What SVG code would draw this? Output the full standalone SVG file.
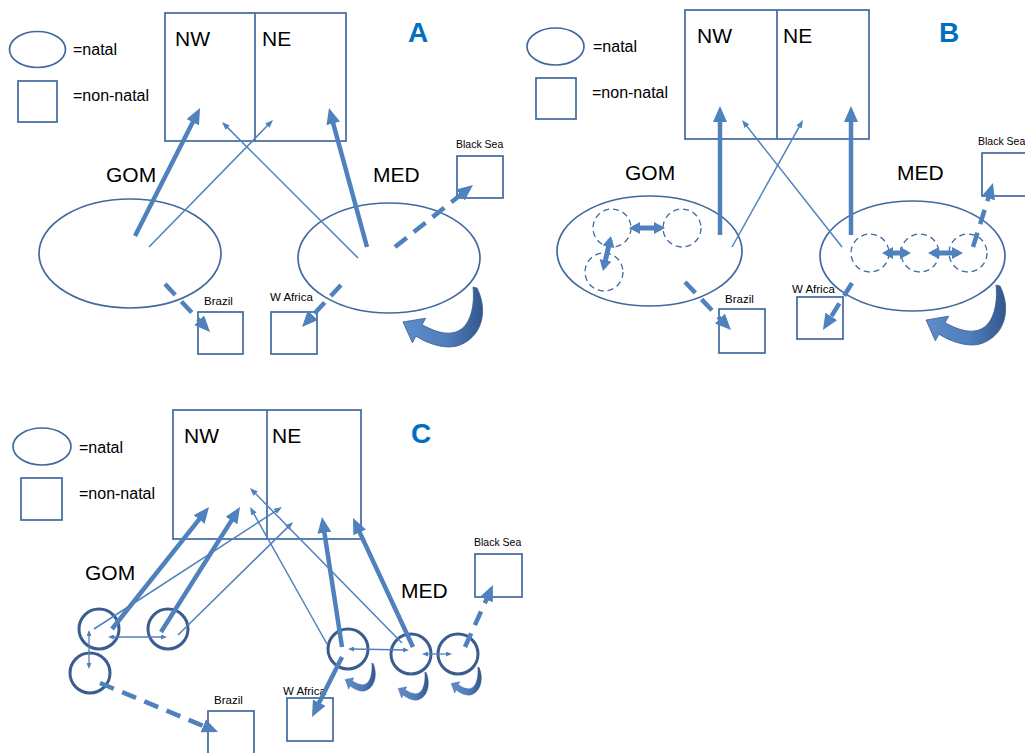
<svg xmlns="http://www.w3.org/2000/svg" width="1025" height="753" viewBox="0 0 1025 753">
<style>
.shape{fill:none;stroke:#41699F;stroke-width:1.7}
.dcirc{fill:none;stroke:#41699F;stroke-width:1.3;stroke-dasharray:6 4}
.scirc{fill:none;stroke:#3A5D8F;stroke-width:3}
.thick{fill:none;stroke:#4F81BD;stroke-width:4.5;marker-end:url(#hT)}
.thin{fill:none;stroke:#4F81BD;stroke-width:1.5;marker-end:url(#hS)}
.dash{fill:none;stroke:#4F81BD;stroke-width:4.5;stroke-dasharray:15 9;marker-end:url(#hT)}
.dbl{fill:none;stroke:#4F81BD;stroke-width:5;marker-start:url(#hM);marker-end:url(#hM)}
.sdbl{fill:none;stroke:#4F81BD;stroke-width:1.3;marker-start:url(#hX);marker-end:url(#hX)}
.big{font-family:"Liberation Sans",Arial,sans-serif;font-size:21px;fill:#000}
.leg{font-family:"Liberation Sans",Arial,sans-serif;font-size:16px;fill:#000}
.sm{font-family:"Liberation Sans",Arial,sans-serif;font-size:11.5px;fill:#000}
.bs{font-family:"Liberation Sans",Arial,sans-serif;font-size:10.5px;fill:#000}
.pl{font-family:"Liberation Sans",Arial,sans-serif;font-size:28px;font-weight:bold;fill:#0070C0}
.curve{fill:url(#cg);stroke:#385D8A;stroke-width:0.8}
</style>
<defs>
<marker id="hT" markerUnits="userSpaceOnUse" viewBox="0 0 16 14" markerWidth="16" markerHeight="14" refX="10" refY="7" orient="auto-start-reverse"><path d="M0,0 L16,7 L0,14 Z" fill="#4F81BD"/></marker>
<marker id="hM" markerUnits="userSpaceOnUse" viewBox="0 0 11 12" markerWidth="11" markerHeight="12" refX="7" refY="6" orient="auto-start-reverse"><path d="M0,0 L11,6 L0,12 Z" fill="#4F81BD"/></marker>
<marker id="hS" markerUnits="userSpaceOnUse" viewBox="0 0 8 6" markerWidth="8" markerHeight="6" refX="5" refY="3" orient="auto-start-reverse"><path d="M0,0 L8,3 L0,6 Z" fill="#4F81BD"/></marker>
<marker id="hX" markerUnits="userSpaceOnUse" viewBox="0 0 6 5" markerWidth="6" markerHeight="5" refX="4" refY="2.5" orient="auto-start-reverse"><path d="M0,0 L6,2.5 L0,5 Z" fill="#4F81BD"/></marker>
<linearGradient id="cg" x1="0" y1="0" x2="1" y2="0"><stop offset="0" stop-color="#5F8CCB"/><stop offset="0.55" stop-color="#4F7EBD"/><stop offset="1" stop-color="#33578C"/></linearGradient>
<path id="curv" class="curve" d="M 73,0 L 77,1 C 87,20 85,48 60,58 C 48,63 30,58 15.9,49.2 L 12.4,55.8 L 3,35 L 25.6,31.2 L 22.1,37.8 C 34,44 48,50 60,43 C 70,37 75,20 73,0 Z"/>
</defs>

<!-- ================= PANEL A ================= -->
<g id="A-legend">
<ellipse class="shape" cx="37.5" cy="49.5" rx="28" ry="18"/>
<text class="leg" x="73" y="55">=natal</text>
<rect class="shape" x="18" y="81" width="39" height="41"/>
<text class="leg" x="73" y="101">=non-natal</text>
</g>
<g id="A-label"><text class="pl" x="408" y="42">A</text></g>
<g id="A-NWNE">
<rect class="shape" x="165" y="13" width="181" height="128"/>
<line class="shape" x1="255" y1="13" x2="255" y2="141"/>
<text class="big" x="175" y="46">NW</text>
<text class="big" x="262" y="46">NE</text>
</g>
<g id="A-GOM">
<ellipse class="shape" cx="130" cy="253.5" rx="91" ry="54.5"/>
<text class="big" x="106" y="182">GOM</text>
</g>
<g id="A-MED">
<ellipse class="shape" cx="389" cy="258" rx="91" ry="55"/>
<text class="big" x="373" y="182">MED</text>
</g>
<g id="A-BlackSea">
<rect class="shape" x="457" y="156" width="46" height="42"/>
<text class="bs" x="456" y="148">Black Sea</text>
</g>
<g id="A-Brazil">
<rect class="shape" x="198" y="312" width="45" height="42"/>
<text class="sm" x="204" y="305">Brazil</text>
</g>
<g id="A-WAfrica">
<rect class="shape" x="271" y="312" width="46" height="42"/>
<text class="sm" x="270" y="301">W Africa</text>
</g>
<g id="A-connectors">
<line class="thick" x1="135" y1="236" x2="197.3" y2="113.3"/>
<line class="thin" x1="149" y1="247" x2="270.9" y2="122.1"/>
<line class="thin" x1="358" y1="258" x2="224.1" y2="124.1"/>
<line class="thick" x1="367" y1="247" x2="330.6" y2="113.8"/>
<line class="dash" x1="395" y1="247" x2="468.3" y2="188.7"/>
<line class="dash" x1="165" y1="284" x2="205.9" y2="327.6"/>
<line class="dash" x1="341" y1="285" x2="306.1" y2="322.6"/>
<use href="#curv" transform="translate(400,287)"/>
</g>

<!-- ================= PANEL B ================= -->
<g id="B-legend">
<ellipse class="shape" cx="555.5" cy="46.5" rx="28.5" ry="18.5"/>
<text class="leg" x="593" y="52">=natal</text>
<rect class="shape" x="536" y="78" width="40" height="41"/>
<text class="leg" x="592" y="98">=non-natal</text>
</g>
<g id="B-label"><text class="pl" x="939" y="42">B</text></g>
<g id="B-NWNE">
<rect class="shape" x="685" y="10" width="184" height="129"/>
<line class="shape" x1="777" y1="10" x2="777" y2="139"/>
<text class="big" x="697" y="43">NW</text>
<text class="big" x="783" y="43">NE</text>
</g>
<g id="B-GOM">
<ellipse class="shape" cx="649.5" cy="251" rx="92.5" ry="55"/>
<circle class="dcirc" cx="612" cy="228" r="19"/>
<circle class="dcirc" cx="682" cy="228" r="19"/>
<circle class="dcirc" cx="604" cy="272" r="19"/>
<text class="big" x="625" y="180">GOM</text>
</g>
<g id="B-MED">
<ellipse class="shape" cx="912.5" cy="256" rx="92.5" ry="55"/>
<circle class="dcirc" cx="870" cy="253" r="19"/>
<circle class="dcirc" cx="920" cy="253" r="19"/>
<circle class="dcirc" cx="968" cy="253" r="19"/>
<text class="big" x="897" y="180">MED</text>
</g>
<g id="B-BlackSea">
<rect class="shape" x="982" y="153" width="50" height="43"/>
<text class="bs" x="978" y="145">Black Sea</text>
</g>
<g id="B-Brazil">
<rect class="shape" x="719" y="309" width="46" height="44"/>
<text class="sm" x="725" y="303">Brazil</text>
</g>
<g id="B-WAfrica">
<rect class="shape" x="797" y="297" width="46" height="42"/>
<text class="sm" x="792" y="293">W Africa</text>
</g>
<g id="B-connectors">
<line class="thick" x1="720" y1="235" x2="720" y2="112"/>
<line class="thick" x1="851" y1="235" x2="851" y2="112"/>
<line class="thin" x1="732" y1="247" x2="801.5" y2="122.6"/>
<line class="thin" x1="842" y1="247" x2="743.9" y2="122.4"/>
<line class="dash" x1="685" y1="282" x2="726.8" y2="325.7"/>
<line class="dash" x1="852" y1="283" x2="826.1" y2="324.9"/>
<line class="dash" x1="973" y1="247" x2="991.2" y2="188.7"/>
<line class="dbl" x1="633" y1="228" x2="661" y2="228"/>
<line class="dbl" x1="610.1" y1="239.9" x2="603.9" y2="267.1"/>
<line class="dbl" x1="886" y1="253" x2="907" y2="253"/>
<line class="dbl" x1="932" y1="253" x2="959" y2="253"/>
<use href="#curv" transform="translate(923,285)"/>
</g>

<!-- ================= PANEL C ================= -->
<g id="C-legend">
<ellipse class="shape" cx="42" cy="446.5" rx="29" ry="18.5"/>
<text class="leg" x="79" y="453">=natal</text>
<rect class="shape" x="21" y="478" width="41" height="42"/>
<text class="leg" x="79" y="499">=non-natal</text>
</g>
<g id="C-label"><text class="pl" x="411" y="443">C</text></g>
<g id="C-NWNE">
<rect class="shape" x="173" y="410" width="188" height="129"/>
<line class="shape" x1="267" y1="410" x2="267" y2="539"/>
<text class="big" x="184" y="443">NW</text>
<text class="big" x="272" y="443">NE</text>
</g>
<g id="C-GOM">
<circle class="scirc" cx="99" cy="629" r="20"/>
<circle class="scirc" cx="168" cy="629" r="20"/>
<circle class="scirc" cx="90" cy="673" r="20"/>
<text class="big" x="85" y="580">GOM</text>
</g>
<g id="C-MED">
<circle class="scirc" cx="348" cy="649" r="20"/>
<circle class="scirc" cx="411" cy="654" r="20"/>
<circle class="scirc" cx="458" cy="654" r="20"/>
<text class="big" x="401" y="598">MED</text>
</g>
<g id="C-BlackSea">
<rect class="shape" x="475" y="554" width="47" height="43"/>
<text class="bs" x="474" y="546">Black Sea</text>
</g>
<g id="C-Brazil">
<rect class="shape" x="208" y="711" width="46" height="46"/>
<text class="sm" x="214" y="704">Brazil</text>
</g>
<g id="C-WAfrica">
<rect class="shape" x="287" y="698" width="46" height="43"/>
<text class="sm" x="283" y="695">W Africa</text>
</g>
<g id="C-connectors">
<line class="thin" x1="94" y1="629" x2="279.5" y2="508.6"/>
<line class="thin" x1="178" y1="635" x2="290.9" y2="524.1"/>
<line class="thin" x1="327" y1="644" x2="251.5" y2="509.6"/>
<line class="thin" x1="402" y1="643" x2="252.1" y2="490.1"/>
<line class="thick" x1="112" y1="629" x2="205.3" y2="511.7"/>
<line class="thick" x1="161" y1="632" x2="236.8" y2="512.1"/>
<line class="thick" x1="342" y1="647" x2="322.9" y2="522.9"/>
<line class="thick" x1="413" y1="647" x2="355.5" y2="523.4"/>
<line class="thick" x1="342" y1="657" x2="314.7" y2="711.6"/>
<line class="dash" x1="100" y1="683" x2="212.5" y2="729.7"/>
<line class="dash" x1="465" y1="647" x2="490.5" y2="590.5"/>
<line class="sdbl" x1="110" y1="637" x2="165" y2="637"/>
<line class="sdbl" x1="89" y1="632" x2="89" y2="667"/>
<line class="sdbl" x1="350" y1="649" x2="407" y2="650"/>
<line class="sdbl" x1="424" y1="654" x2="450" y2="654"/>
<use href="#curv" transform="translate(344,663) scale(0.38,0.47)"/>
<use href="#curv" transform="translate(397,672) scale(0.38,0.47)"/>
<use href="#curv" transform="translate(450,667) scale(0.38,0.47)"/>
</g>
</svg>
